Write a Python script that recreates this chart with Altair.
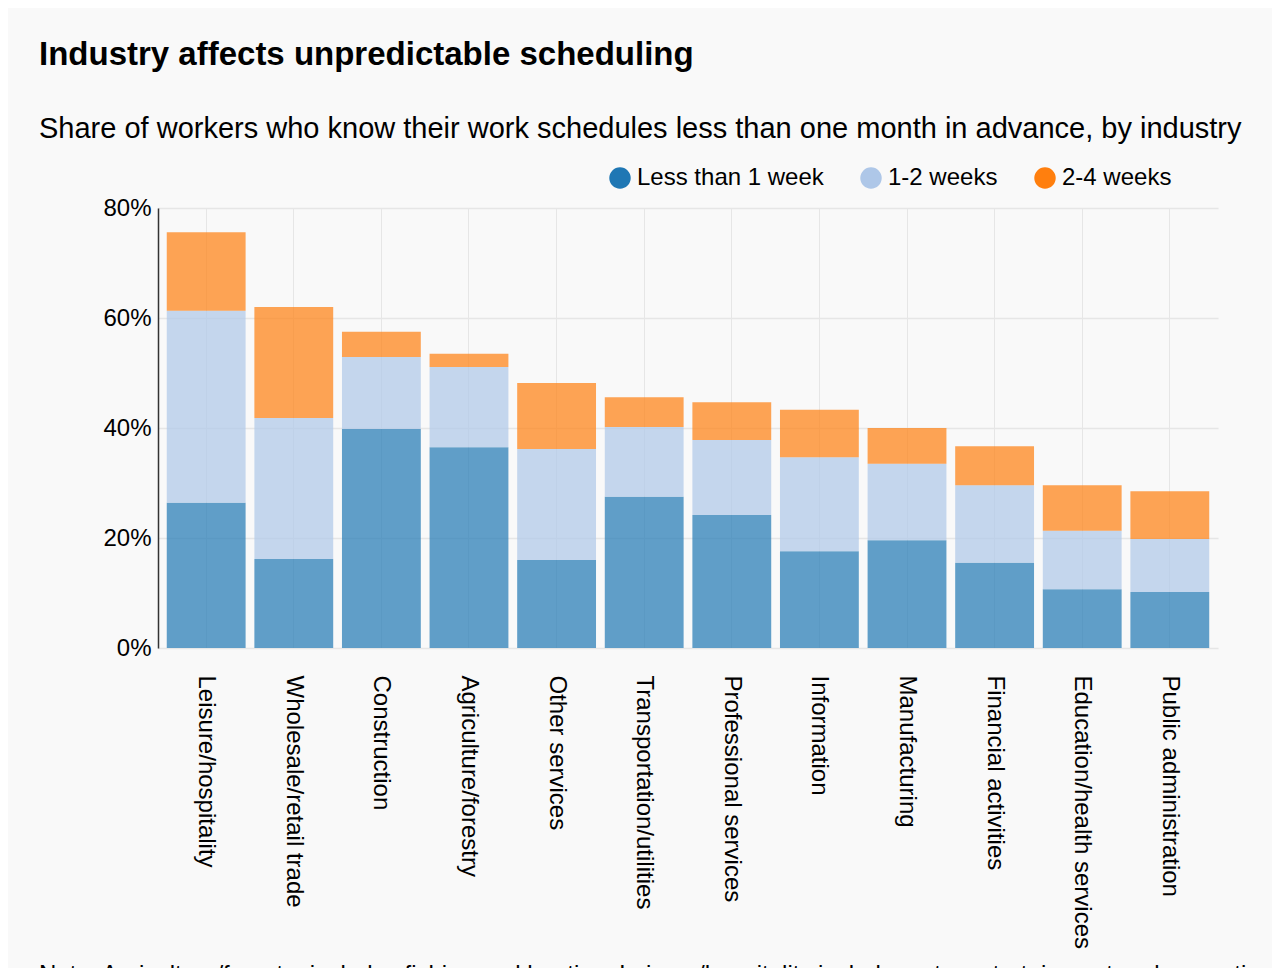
import altair as alt
import pandas as pd

industries = [
    "Leisure/hospitality", "Wholesale/retail trade", "Construction",
    "Agriculture/forestry", "Other services", "Transportation/utilities",
    "Professional services", "Information", "Manufacturing",
    "Financial activities", "Education/health services", "Public administration",
]
less_than_1_week = [26.4, 16.2, 39.8, 36.5, 16.0, 27.5, 24.2, 17.6, 19.6, 15.5, 10.7, 10.2]
weeks_1_2 = [34.9, 25.6, 13.1, 14.6, 20.2, 12.7, 13.6, 17.1, 13.9, 14.1, 10.6, 9.6]
weeks_2_4 = [14.3, 20.2, 4.6, 2.4, 12.0, 5.4, 6.9, 8.6, 6.5, 7.1, 8.3, 8.7]
series = ["Less than 1 week", "1-2 weeks", "2-4 weeks"]
colors = ["#1f77b4", "#aec7e8", "#ff7f0e"]
y_ticks = [0, 0.2, 0.4, 0.6, 0.8]
note_text = ["Note: Agriculture/forestry includes fishing and hunting. Leisure/hospitality includes arts, entertainment and recreation."]

rows = []
for i, ind in enumerate(industries):
    for k, vals in enumerate([less_than_1_week, weeks_1_2, weeks_2_4]):
        rows.append({"industry": ind, "series": series[k], "value": vals[i] / 100, "order": k})
df = pd.DataFrame(rows)

AX_FONT = "Liberation Sans, Arial, Helvetica, sans-serif"

bars = alt.Chart(df).mark_bar(opacity=0.7).encode(
    x=alt.X(
        "industry:N", sort=industries,
        scale=alt.Scale(paddingInner=0.1, paddingOuter=0.1),
        axis=alt.Axis(
            title=None, labelAngle=90, labelAlign="left", labelBaseline="middle",
            labelFontSize=24, labelFont=AX_FONT, labelColor="#000", labelLimit=0,
            ticks=False, domain=False, labelPadding=27,
            grid=True, gridColor="#e6e6e6", gridWidth=1,
        ),
    ),
    y=alt.Y(
        "value:Q", stack="zero",
        scale=alt.Scale(domain=[0, 0.8], nice=False),
        axis=alt.Axis(
            title=None, format=".0%", values=y_ticks,
            labelFontSize=24, labelFont=AX_FONT, labelColor="#000",
            ticks=False, labelPadding=7,
            domain=True, domainColor="#333", domainWidth=1.5,
            grid=True, gridColor="#e6e6e6", gridWidth=1.5,
        ),
    ),
    color=alt.Color(
        "series:N", sort=series,
        scale=alt.Scale(domain=series, range=colors),
        legend=alt.Legend(
            title=None, orient="none", direction="horizontal",
            legendX=450, legendY=-42,
            symbolType="circle", symbolSize=460, symbolOpacity=1,
            symbolStrokeWidth=0, labelFontSize=24, labelFont=AX_FONT,
            labelColor="#000", columnPadding=35, labelOffset=5, labelLimit=0,
        ),
    ),
    order=alt.Order("order:Q"),
)

note = alt.Chart(pd.DataFrame({"note": note_text})).mark_text(
    align="left", baseline="alphabetic", fontSize=24, font=AX_FONT, color="#000"
).encode(text="note:N", x=alt.value(-119), y=alt.value(774))

chart = alt.layer(bars, note).properties(
    width=1060,
    height=440,
    padding={"left": 150, "top": 200, "right": 54, "bottom": 340},
    autosize=alt.AutoSizeParams(type="none"),
    background="#f9f9f9",
    title=alt.TitleParams(
        text="Industry affects unpredictable scheduling",
        subtitle="Share of workers who know their work schedules less than one month in advance, by industry",
        anchor="start", frame="group", dx=-119, offset=22,
        font=AX_FONT, fontSize=33, fontWeight="bold", color="#000",
        subtitleFont=AX_FONT, subtitleFontSize=29, subtitleColor="#000",
        subtitlePadding=43,
    ),
).configure_view(stroke=None)

chart.save("out.html", embed_options={"renderer": "svg", "actions": False})
